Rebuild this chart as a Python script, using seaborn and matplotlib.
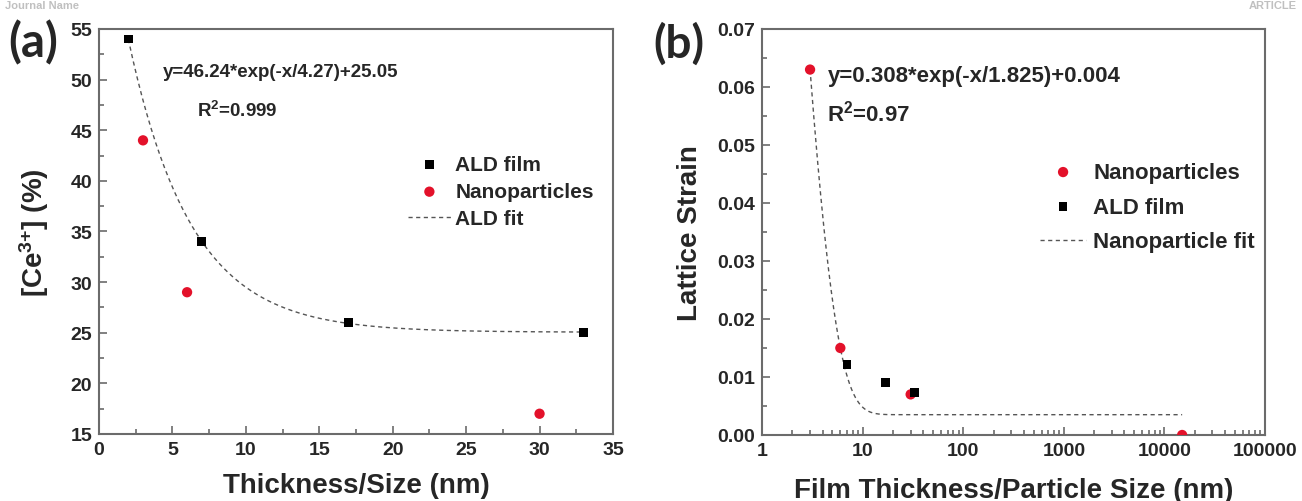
import numpy as np
import pandas as pd
import matplotlib
matplotlib.use("Agg")
import matplotlib.pyplot as plt
from matplotlib.ticker import MultipleLocator, FixedLocator, NullFormatter, LogLocator
import seaborn as sns

# Panel (a): Ce3+ fraction vs thickness/size
a_ald_x = [2, 7, 17, 33]
a_ald_y = [54, 34, 26, 25]
a_np_x = [3, 6, 30]
a_np_y = [44, 29, 17]
# ALD fit y = A*exp(-x/t)+y0 (as printed on the chart)
a_fit = (46.24, 4.27, 25.05)
a_fit_range = (2, 33)

# Panel (b): lattice strain vs film thickness / particle size
b_np_x = [3, 6, 30, 15000]
b_np_y = [0.063, 0.015, 0.007, 0.0]
b_ald_x = [7, 17, 33]
b_ald_y = [0.0122, 0.0091, 0.0073]
# Nanoparticle fit (printed offset 0.004, drawn level ~0.0035)
b_fit = (0.308, 1.825, 0.0035)
b_fit_range = (3, 15000)
b_xticks = [1, 10, 100, 1000, 10000, 100000]

sns.set_theme(style="ticks")
plt.rcParams["font.family"] = ["Liberation Sans", "DejaVu Sans"]
plt.rcParams["font.weight"] = "bold"
plt.rcParams["mathtext.fontset"] = "custom"
plt.rcParams["mathtext.rm"] = "Liberation Sans:bold"
plt.rcParams["mathtext.bf"] = "Liberation Sans:bold"
plt.rcParams["mathtext.it"] = "Liberation Sans:bold"

RED = "#e3112a"
SPINE = "#6b6b6b"
FIT = "#555555"

fig = plt.figure(figsize=(13.02, 5.02), dpi=100)
ax1 = fig.add_axes([0.076, 0.1335, 0.3948, 0.8068])
ax2 = fig.add_axes([0.5853, 0.1315, 0.3863, 0.8088])


def style_axes(ax):
    for s in ax.spines.values():
        s.set_color(SPINE)
        s.set_linewidth(1.5)
    ax.tick_params(which="both", direction="in", top=False, right=False,
                   color=SPINE, width=1.2, labelsize=14, pad=5)
    ax.tick_params(which="major", length=6)
    ax.tick_params(which="minor", length=3.5)
    for lab in ax.get_xticklabels() + ax.get_yticklabels():
        lab.set_fontweight("bold")


# ---- panel (a)
xf = np.linspace(a_fit_range[0], a_fit_range[1], 300)
fa = pd.DataFrame({"x": xf, "y": a_fit[0] * np.exp(-xf / a_fit[1]) + a_fit[2]})
sns.lineplot(data=fa, x="x", y="y", ax=ax1, color=FIT, lw=1.0,
             linestyle=(0, (3, 2.5)), label="ALD fit")
sns.scatterplot(x=a_ald_x, y=a_ald_y, ax=ax1, marker="s", s=40, color="black",
                edgecolor="none", label="ALD film", zorder=3)
sns.scatterplot(x=a_np_x, y=a_np_y, ax=ax1, marker="o", s=55, color=RED,
                edgecolor="none", label="Nanoparticles", zorder=3)
ax1.set_xlim(0, 35)
ax1.set_ylim(15, 55)
ax1.xaxis.set_major_locator(MultipleLocator(5))
ax1.xaxis.set_minor_locator(MultipleLocator(2.5))
ax1.yaxis.set_major_locator(MultipleLocator(5))
ax1.yaxis.set_minor_locator(MultipleLocator(2.5))
ax1.set_xlabel("Thickness/Size (nm)", fontsize=20, fontweight="bold", labelpad=10)
ax1.set_ylabel(r"[Ce$^{3{+}}$] (%)", fontsize=20, fontweight="bold", labelpad=14)
style_axes(ax1)
h, l = ax1.get_legend_handles_labels()
order = [l.index("ALD film"), l.index("Nanoparticles"), l.index("ALD fit")]
ax1.legend([h[i] for i in order], [l[i] for i in order], loc="upper left",
           bbox_to_anchor=(0.58, 0.715), frameon=False, borderpad=0,
           handlelength=2.1, handletextpad=0.2, labelspacing=0.4,
           prop={"weight": "bold", "size": 15})
ax1.text(0.125, 0.895, "y=46.24*exp(-x/4.27)+25.05", transform=ax1.transAxes,
         fontsize=13.5, fontweight="bold", va="center")
ax1.text(0.19, 0.80, r"R$^{2}$=0.999", transform=ax1.transAxes,
         fontsize=13.5, fontweight="bold", va="center")

# ---- panel (b)
xb = np.logspace(np.log10(b_fit_range[0]), np.log10(b_fit_range[1]), 600)
fb = pd.DataFrame({"x": xb, "y": b_fit[0] * np.exp(-xb / b_fit[1]) + b_fit[2]})
sns.lineplot(data=fb, x="x", y="y", ax=ax2, color=FIT, lw=1.0,
             linestyle=(0, (3, 2.5)), label="Nanoparticle fit")
sns.scatterplot(x=b_np_x, y=b_np_y, ax=ax2, marker="o", s=55, color=RED,
                edgecolor="none", label="Nanoparticles", zorder=3)
sns.scatterplot(x=b_ald_x, y=b_ald_y, ax=ax2, marker="s", s=40, color="black",
                edgecolor="none", label="ALD film", zorder=4)
ax2.set_xscale("log")
ax2.set_xlim(1, 100000)
ax2.set_ylim(0, 0.07)
ax2.xaxis.set_major_locator(FixedLocator(b_xticks))
ax2.xaxis.set_minor_locator(LogLocator(base=10, subs=np.arange(2, 10)))
ax2.xaxis.set_minor_formatter(NullFormatter())
ax2.set_xticklabels([str(v) for v in b_xticks])
ax2.yaxis.set_major_locator(MultipleLocator(0.01))
ax2.yaxis.set_minor_locator(MultipleLocator(0.005))
ax2.yaxis.set_major_formatter(plt.FuncFormatter(lambda v, p: f"{v:.2f}"))
ax2.set_xlabel("Film Thickness/Particle Size (nm)", fontsize=20, fontweight="bold", labelpad=13)
ax2.set_ylabel("Lattice Strain", fontsize=20, fontweight="bold", labelpad=10)
style_axes(ax2)
h, l = ax2.get_legend_handles_labels()
order = [l.index("Nanoparticles"), l.index("ALD film"), l.index("Nanoparticle fit")]
ax2.legend([h[i] for i in order], [l[i] for i in order], loc="upper left",
           bbox_to_anchor=(0.53, 0.70), frameon=False, borderpad=0,
           handlelength=2.1, handletextpad=0.3, labelspacing=0.62,
           prop={"weight": "bold", "size": 16})
ax2.text(0.13, 0.885, "y=0.308*exp(-x/1.825)+0.004", transform=ax2.transAxes,
         fontsize=16, fontweight="bold", va="center")
ax2.text(0.13, 0.795, r"R$^{2}$=0.97", transform=ax2.transAxes,
         fontsize=16, fontweight="bold", va="center")

# panel letters and page header
fig.text(0.006, 0.885, "(a)", fontsize=34, fontweight="bold", family="Lato")
fig.text(0.502, 0.885, "(b)", fontsize=33, fontweight="bold", family="Lato")
fig.text(0.004, 0.999, "Journal Name", fontsize=8, color="#c0c0c0", va="top", ha="left")
fig.text(0.996, 0.999, "ARTICLE", fontsize=8, color="#c0c0c0", va="top", ha="right")

fig.savefig("out.png", dpi=100, facecolor="white")
